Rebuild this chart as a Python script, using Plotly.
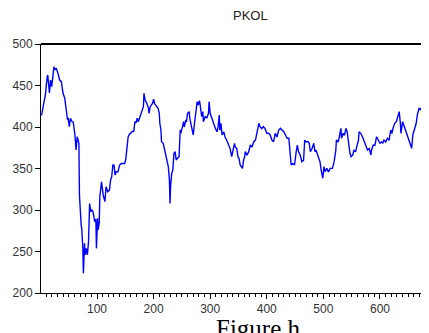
import plotly.graph_objects as go

obs = [2, 5, 8, 9, 12, 13, 16, 18, 20, 24, 26, 28, 31, 34, 37, 40, 43, 46, 48, 49,
       51, 53, 56, 58, 61, 63, 65, 68, 69, 72, 73, 75, 76, 78, 79, 81, 83, 85, 87, 89,
       91, 93, 96, 98, 99, 101, 102, 104, 105, 108, 111, 114, 116, 119, 122, 124, 126, 128, 130, 132,
       134, 137, 140, 143, 146, 149, 151, 152, 155, 157, 160, 162, 165, 167, 169, 171,
       173, 176, 179, 180, 182, 183, 185, 188, 191, 192, 194, 198, 200, 202, 205, 208, 210, 211, 213, 214,
       217, 219, 221, 223, 225, 226, 228, 229, 230, 232, 234, 236, 238, 240, 242, 245, 247, 248, 251, 253,
       254, 257, 258, 260, 263, 264, 267, 270, 273, 275, 277, 279, 281, 282, 285, 287, 288, 291, 294, 297,
       298, 300, 302, 304, 307, 309, 312, 314, 316, 317, 319, 321, 324, 326, 329, 332, 335, 338, 340, 343,
       344, 347, 349, 351, 353, 355, 357, 359, 361, 362, 365, 368, 371, 374, 377, 380, 383, 386, 388, 391,
       394, 397, 400, 403, 406, 409, 412, 415, 418, 421, 424, 427, 430, 433, 436, 439, 440, 442, 443, 446,
       449, 452, 454, 456, 459, 462, 465, 467, 469, 473, 475, 477, 480, 483, 485, 487, 489, 492, 494, 496,
       499, 501, 503, 506, 509, 512,
       516, 519, 522, 523, 526, 527, 531, 532, 535, 537, 540, 542, 543, 545, 547, 549, 552, 554, 557, 559,
       562, 563, 566, 569, 572, 575, 578, 581, 584, 585, 588, 591, 594, 597, 600, 603, 605, 607, 610, 613,
       616, 619, 621, 623, 626, 629, 631, 634, 636, 637, 640, 642, 645, 648, 651, 654, 656, 658, 661, 664,
       666, 669, 672, 675, 678, 681, 684, 685, 686]

pkol = [414, 424, 435, 440, 460.6, 462.6, 441, 456.6, 448.6, 472.7, 468.7, 470.7, 464.7, 456.6, 454.6, 440.6, 434.6, 414.5, 408.4, 411,
        400.4, 410.5, 406.4, 406, 390.4, 372.3, 388.3, 380.3, 318, 281.9, 278, 253.8, 223.7, 259.9, 245.8, 253.8, 245.8, 261.8, 307.8, 298,
        300, 298, 285.9, 289, 253.8, 290, 276, 285, 316, 334, 318, 310, 328, 322, 324, 336, 340, 354.2, 354, 342,
        346, 346, 354, 356, 356, 356, 362, 370, 388, 391, 393.6, 394.3, 395, 406.4, 405, 410.5,
        406.4, 412.4, 416.5, 420.5, 424.5, 440.6, 432.5, 428.5, 422.5, 416.5, 424.5, 428.5, 433.4, 427.7, 425.3, 422.5, 416.5, 404.5, 396.4, 382.3,
        380.4, 374.3, 366.3, 364.2, 358.2, 352.2, 336, 308, 328, 344, 348.2, 368.3, 370.3, 360.2, 362.3, 364.2, 396.4, 392.4, 400.4, 406.4,
        400, 408.4, 406, 416.5, 418.5, 410.5, 400.4, 390.4, 408.4, 420.5, 430.5, 426.5, 431.7, 428, 412.4, 418.5, 406.4, 412.4, 411, 416.5,
        430.5, 416.5, 412, 408.4, 400.4, 398.4, 394.3, 400.4, 414.5, 396, 404.5, 390.4, 394.3, 388.3, 384.3, 378.3, 374.3, 364.2, 372.3, 380.4,
        376.3, 374, 364.2, 362, 354.2, 352.2, 350.2, 360.2, 364.2, 370.3, 366, 370.3, 378.3, 376, 382.3, 384.3, 394.3, 404.5, 400.4, 398,
        400.4, 398, 392.4, 392.4, 390.4, 384.3, 382.3, 392.4, 388, 396.4, 398.4, 396.4, 394.3, 390.4, 386.4, 386.4, 378.3, 356.2, 354.2, 356,
        354.2, 370.3, 378.3, 370.3, 366.3, 358.2, 360, 384.3, 382.3, 382.3, 380.4, 370.3, 374, 380.4, 370.3, 372, 368.3, 360.2, 358.2, 348.2,
        338.2, 352.2, 346.2, 350.2, 346, 350.2,
        350.2, 358.2, 372.3, 384.3, 382, 384.3, 398.4, 386.4, 392.4, 390, 398.4, 394, 388.3, 374.3, 368.3, 364.2, 366.3, 372.3, 370, 376.3,
        384.3, 394.3, 392.4, 388.3, 382.3, 378.3, 372.3, 374, 366.3, 372, 378.3, 378, 388.3, 384.3, 380.4, 382, 380.4, 384.3, 382, 386.4,
        384, 396.4, 392, 398.4, 404.5, 406.4, 412.4, 418.5, 404.5, 392.4, 406.4, 402.4, 396.4, 392.4, 386.4, 378.3, 374.3, 390.4, 396.4, 404.5,
        414.5, 422.5, 421, 426.5, 427.7, 422.5, 416.5, 414.5, 381]

y_ticks = [200, 250, 300, 350, 400, 450, 500]
x_ticks = [100, 200, 300, 400, 500, 600]
title_text = "PKOL"
caption_text = "Figure h"

# the page body adds an 8px offset; compensate so the plot lands where the reference has it
OFF = 8
W, H = 429 - OFF, 333 - OFF
ML, MR, MT = 41 - OFF, 0, 44 - OFF
MB = H - (293 - OFF)
plot_w = W - ML - MR
plot_h = H - MT - MB

fig = go.Figure()
fig.add_trace(go.Scatter(x=obs, y=pkol, mode="lines",
                         line=dict(color="#0000FF", width=1.4),
                         hoverinfo="skip", showlegend=False))

tickfont = dict(family="Arial, Liberation Sans, sans-serif", size=12, color="#333333")

fig.update_layout(
    width=W, height=H,
    margin=dict(l=ML, r=MR, t=MT, b=MB, pad=0, autoexpand=False),
    paper_bgcolor="white", plot_bgcolor="white",
    xaxis=dict(range=[1.06, 686.6], showgrid=False, zeroline=False, automargin=False,
               showline=True, linecolor="black", linewidth=1,
               tickmode="array", tickvals=x_ticks, ticktext=[str(v) for v in x_ticks],
               ticks="outside", ticklen=5, tickwidth=1, tickcolor="black",
               minor=dict(dtick=10, tick0=0, ticks="outside", ticklen=3,
                          tickwidth=1, tickcolor="black", showgrid=False),
               tickfont=tickfont),
    yaxis=dict(range=[200, 500], showgrid=False, zeroline=False, automargin=False,
               showline=True, linecolor="black", linewidth=1,
               tickmode="array", tickvals=y_ticks, ticktext=[str(v) for v in y_ticks],
               ticks="outside", ticklen=5, tickwidth=1, tickcolor="black",
               tickfont=tickfont),
    shapes=[dict(type="line", xref="paper", yref="paper", x0=0, x1=1, y0=1, y1=1,
                 line=dict(color="black", width=2))],
)

def px_to_paper_x(px):
    return (px - OFF - ML) / plot_w

def py_to_paper_y(py):
    return (H - MB - (py - OFF)) / plot_h

fig.add_annotation(text=title_text, xref="paper", yref="paper",
                   x=px_to_paper_x(250), y=py_to_paper_y(15),
                   xanchor="center", yanchor="middle", showarrow=False,
                   font=dict(family="Arial, Liberation Sans, sans-serif", size=13, color="#222222"))

# partially visible "700" tick label at the cropped right edge
fig.add_annotation(text="700", xref="paper", yref="paper",
                   x=px_to_paper_x(437), y=py_to_paper_y(307),
                   xanchor="center", yanchor="middle", showarrow=False,
                   font=tickfont)

fig.add_annotation(text=caption_text, xref="paper", yref="paper",
                   x=px_to_paper_x(258), y=py_to_paper_y(313),
                   xanchor="center", yanchor="top", showarrow=False,
                   font=dict(family="Liberation Serif, Times New Roman, serif", size=25, color="black"))

fig.write_html("out.html")
